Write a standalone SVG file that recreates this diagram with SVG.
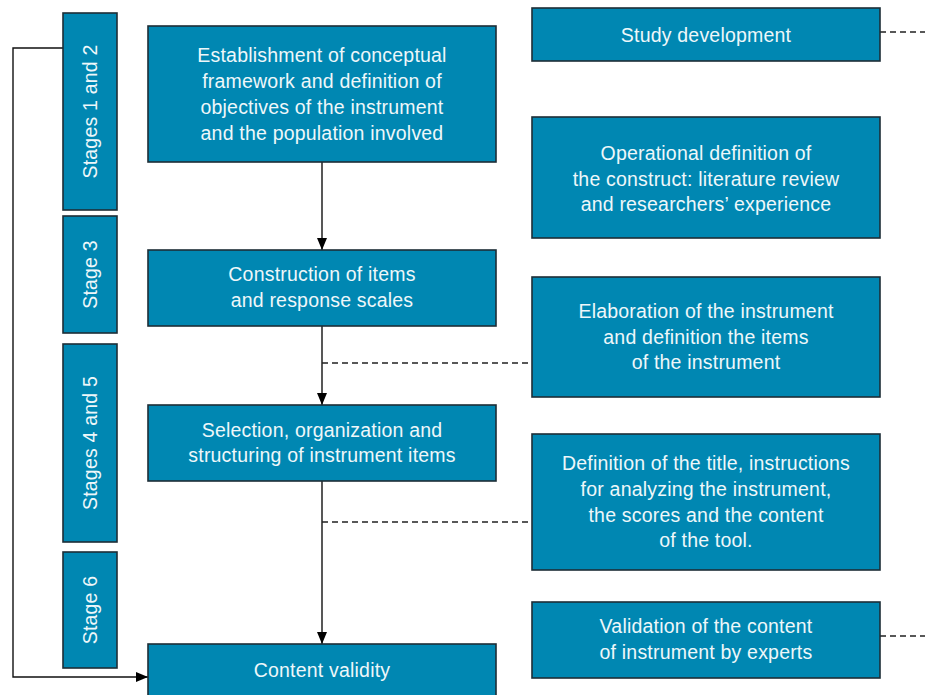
<svg xmlns="http://www.w3.org/2000/svg" width="925" height="695" viewBox="0 0 925 695">
<style>
.box{fill:#0087b2;stroke:#1d2d36;stroke-width:1.6}
.t{fill:#eef7fa;font-family:"Liberation Sans",Arial,sans-serif;font-size:19.5px;letter-spacing:0.2px;text-anchor:middle}
.ln{fill:none;stroke:#111;stroke-width:1.4}
.dash{fill:none;stroke:#222;stroke-width:1.3;stroke-dasharray:6 4}
</style>
<defs>
<marker id="arr" viewBox="0 0 12 10" refX="12" refY="5" markerWidth="12" markerHeight="10" markerUnits="userSpaceOnUse" orient="auto">
<path d="M0,0 L12,5 L0,10 z" fill="#000"/>
</marker>
</defs>
<rect width="925" height="695" fill="#fff"/>
<g id="connectors">
<path class="ln" d="M322,162 V250" marker-end="url(#arr)"/>
<path class="ln" d="M322,326 V405" marker-end="url(#arr)"/>
<path class="ln" d="M322,481 V644" marker-end="url(#arr)"/>
<path class="ln" d="M63,48 H13 V677 H148" marker-end="url(#arr)"/>
<path class="dash" d="M322,363 H532"/>
<path class="dash" d="M322,522 H532"/>
<path class="dash" d="M880,32 H925"/>
<path class="dash" d="M880,636 H925"/>
</g>
<g id="stage12"><rect class="box" x="63" y="13" width="54" height="197"/><text class="t" transform="translate(97,111.5) rotate(-90)">Stages 1 and 2</text></g>
<g id="stage3"><rect class="box" x="63" y="216" width="54" height="117"/><text class="t" transform="translate(97,274.5) rotate(-90)">Stage 3</text></g>
<g id="stage45"><rect class="box" x="63" y="344" width="54" height="198"/><text class="t" transform="translate(97,443) rotate(-90)">Stages 4 and 5</text></g>
<g id="stage6"><rect class="box" x="63" y="552" width="54" height="116"/><text class="t" transform="translate(97,610) rotate(-90)">Stage 6</text></g>
<g id="establishment"><rect class="box" x="148" y="26" width="348" height="136"/>
<text class="t" x="322" y="62">Establishment of conceptual</text>
<text class="t" x="322" y="88">framework and definition of</text>
<text class="t" x="322" y="114">objectives of the instrument</text>
<text class="t" x="322" y="140">and the population involved</text></g>
<g id="construction"><rect class="box" x="148" y="250" width="348" height="76"/>
<text class="t" x="322" y="281">Construction of items</text>
<text class="t" x="322" y="307">and response scales</text></g>
<g id="selection"><rect class="box" x="148" y="405" width="348" height="76"/>
<text class="t" x="322" y="437">Selection, organization and</text>
<text class="t" x="322" y="462">structuring of instrument items</text></g>
<g id="content"><rect class="box" x="148" y="644" width="348" height="60"/>
<text class="t" x="322" y="677">Content validity</text></g>
<g id="study"><rect class="box" x="532" y="8" width="348" height="53"/>
<text class="t" x="706" y="42">Study development</text></g>
<g id="operational"><rect class="box" x="532" y="117" width="348" height="121"/>
<text class="t" x="706" y="160">Operational definition of</text>
<text class="t" x="706" y="186">the construct: literature review</text>
<text class="t" x="706" y="211">and researchers’ experience</text></g>
<g id="elaboration"><rect class="box" x="532" y="277" width="348" height="120"/>
<text class="t" x="706" y="318">Elaboration of the instrument</text>
<text class="t" x="706" y="344">and definition the items</text>
<text class="t" x="706" y="369">of the instrument</text></g>
<g id="definition"><rect class="box" x="532" y="434" width="348" height="136"/>
<text class="t" x="706" y="470">Definition of the title, instructions</text>
<text class="t" x="706" y="496">for analyzing the instrument,</text>
<text class="t" x="706" y="522">the scores and the content</text>
<text class="t" x="706" y="547">of the tool.</text></g>
<g id="validation"><rect class="box" x="532" y="602" width="348" height="76"/>
<text class="t" x="706" y="633">Validation of the content</text>
<text class="t" x="706" y="659">of instrument by experts</text></g>
</svg>
